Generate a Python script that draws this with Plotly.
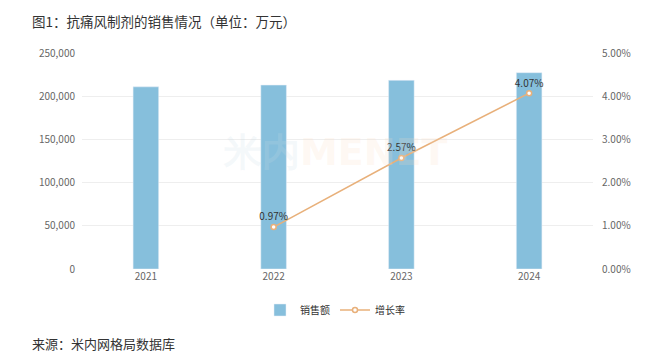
import plotly.graph_objects as go

years = ["2021", "2022", "2023", "2024"]
sales = [210800, 212850, 218320, 227210]
growth_years = ["2022", "2023", "2024"]
growth = [0.97, 2.57, 4.07]
growth_labels = ["0.97%", "2.57%", "4.07%"]

FONT = "Noto Sans CJK SC, Noto Sans, sans-serif"

# page body has an 8px margin, so the figure is sized/offset to compensate
W, H = 649, 354
L, R, T, B = 74, 64, 45, 93
pw, ph = W - L - R, H - T - B


def px(x, y):
    return (x - 8 - L) / pw, (H - B - (y - 8)) / ph


fig = go.Figure()
fig.add_trace(go.Bar(
    x=years, y=sales, name="销售额", marker_color="#86bfdc",
    width=0.2, yaxis="y",
))
fig.add_trace(go.Scatter(
    x=growth_years, y=growth, name="增长率", yaxis="y2",
    mode="lines+markers+text", text=growth_labels, textposition="top center",
    textfont=dict(size=10, color="#333", family=FONT),
    line=dict(color="#e8b07a", width=1.5),
    marker=dict(symbol="circle", size=5, color="white", line=dict(color="#e8b07a", width=1.5)),
))

tx, ty = px(30, 21)
sx, sy = px(30, 343)
wx, wy = px(335, 152)
lx, ly = px(335, 310)

fig.update_layout(
    width=W, height=H,
    margin=dict(l=L, r=R, t=T, b=B, autoexpand=False),
    paper_bgcolor="white", plot_bgcolor="white",
    font=dict(family=FONT, size=10, color="#666"),
    showlegend=True,
    legend=dict(orientation="h", x=lx, xanchor="center", y=ly, yanchor="middle",
                font=dict(size=10, color="#333"), itemwidth=30),
    xaxis=dict(type="category", showgrid=False, showline=False, ticks="",
               tickfont=dict(size=10, color="#666")),
    yaxis=dict(range=[0, 250000], dtick=50000, tickformat=",", gridcolor="#eeeeee",
               zeroline=False, showline=False, tickfont=dict(size=10, color="#666"),
               ticklabelstandoff=6),
    yaxis2=dict(range=[0, 5], dtick=1, tickformat=".2f", ticksuffix="%", overlaying="y",
                side="right", showgrid=False, zeroline=False, showline=False,
                tickfont=dict(size=10, color="#666"), ticklabelstandoff=8),
    annotations=[
        dict(text="图1：抗痛风制剂的销售情况（单位：万元）", x=tx, y=ty, xref="paper", yref="paper",
             showarrow=False, font=dict(size=13.5, color="#333", family=FONT),
             xanchor="left", yanchor="middle"),
        dict(text="来源：米内网格局数据库", x=sx, y=sy, xref="paper", yref="paper",
             showarrow=False, font=dict(size=13, color="#333", family=FONT),
             xanchor="left", yanchor="middle"),
        dict(text="<b><span style='color:rgba(200,220,230,0.2)'>米内</span>"
                  "<span style='color:rgba(250,220,195,0.2)'>MENET</span></b>",
             x=wx, y=wy, xref="paper", yref="paper", showarrow=False,
             font=dict(size=38, family="DejaVu Sans, sans-serif")),
    ],
)

fig.write_html("out.html")
